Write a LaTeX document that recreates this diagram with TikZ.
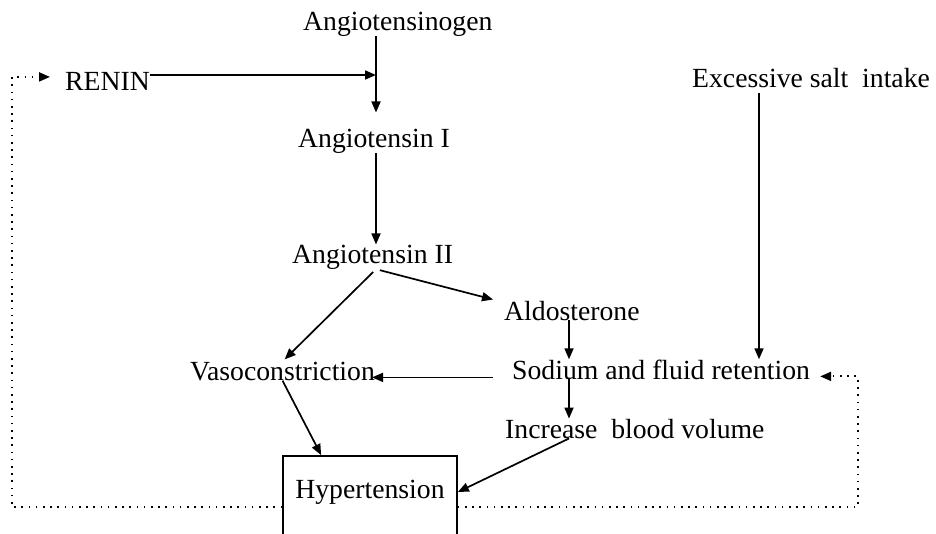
\documentclass[tikz,border=0pt]{standalone}
\usepackage{fontspec}
\setmainfont{Liberation Serif}
\usetikzlibrary{arrows.meta,calc}
\begin{document}
\begin{tikzpicture}[x=1pt,y=-1pt,
  lbl/.style={anchor=base west,inner sep=0pt,font=\fontsize{27.7}{33}\selectfont},
  arr/.style={line width=1.7pt,-{Triangle[length=11pt,width=9pt]}},
  fb/.style={line width=2pt,dash pattern=on 1.6pt off 5.6pt,-{Triangle[length=11pt,width=9pt]}}]
\clip (0,0) rectangle (936,533);
\fill[white] (0,0) rectangle (936,533);
% nodes
\node[lbl] (ang0) at (303,30) {Angiotensinogen};
\node[lbl] (renin) at (65,90) {RENIN};
\node[lbl] (ang1) at (298,147) {Angiotensin I};
\node[lbl] (ang2) at (292,263) {Angiotensin II};
\node[lbl] (aldo) at (504,320) {Aldosterone};
\node[lbl] (vaso) at (190,380) {Vasoconstriction};
\node[lbl] (sod) at (512,379) {Sodium and fluid retention};
\node[lbl] (inc) at (505,438) {Increase~~blood volume};
\node[lbl] (salt) at (692,87) {Excessive salt~~intake};
\node[draw,line width=1.7pt,fill=white,inner sep=0pt,text height=42pt,text depth=60pt,
  minimum width=174pt,anchor=base,font=\fontsize{27.7}{33}\selectfont] (hyp) at (370,498) {Hypertension};
% helper coordinates
\coordinate (j) at (376,75);
\coordinate (k) at (569,0);
\coordinate (m) at (759,0);
\coordinate (lx) at (12,0);
\coordinate (rx) at (858,0);
% connectors
\draw[arr] ([yshift=15pt]renin.base east) -- (j);
\draw[arr,shorten >=16pt] (ang0.south -| j) -- (ang1.north -| j);
\draw[arr] (ang1.south -| j) -- (ang2.north -| j);
\draw[arr,shorten <=4pt] (ang2.south -| j) -- ($(aldo.west)+(-11,-11)$);
\draw[arr,shorten <=4pt,shorten >=3pt] (ang2.south -| j) -- (vaso.north);
\draw[arr] (aldo.south -| k) -- (sod.north -| k);
\draw[arr] (sod.south -| k) -- (inc.north -| k);
\coordinate (sv) at ($(sod.west)+(-19,8)$);
\draw[arr,shorten >=-3pt] (sv) -- (sv -| vaso.east);
\draw[arr] (vaso.south) -- ($(hyp.north west)+(39,0)$);
\draw[arr] (inc.south -| k) -- ($(hyp.east)+(0,-15)$);
\draw[arr,shorten <=6pt] (salt.south -| m) -- (sod.north -| m);
% feedback loops
\draw[fb] (hyp.west) -- (hyp.west -| lx) |- ($(renin.west)+(-15,-4)$);
\draw[fb] (hyp.east) -- (hyp.east -| rx) |- ($(sod.east)+(10,7)$);
\end{tikzpicture}
\end{document}
